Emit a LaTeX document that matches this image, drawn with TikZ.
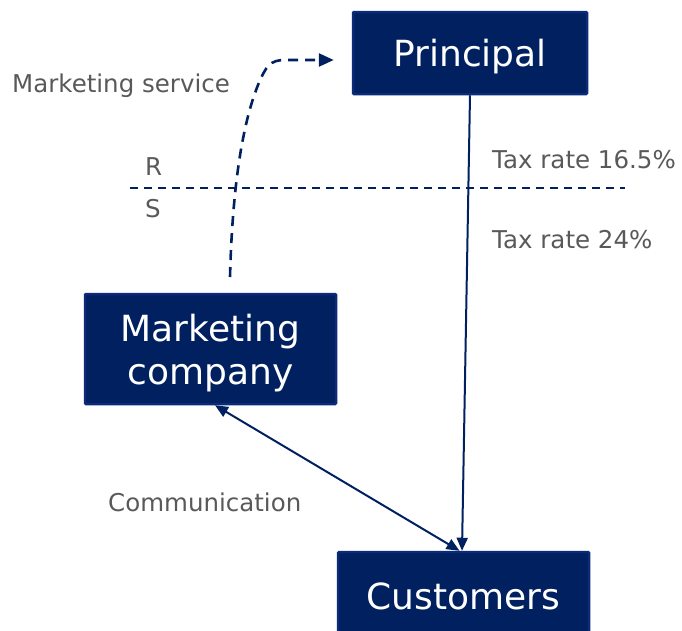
\documentclass[tikz,border=0pt]{standalone}
\usepackage{fontspec}
\setmainfont{DejaVu Sans}
\usetikzlibrary{arrows.meta}
\definecolor{navy}{HTML}{002060}
\definecolor{rim}{HTML}{0B2B7A}
\definecolor{labelgray}{HTML}{595959}
\begin{document}
\begin{tikzpicture}[x=1pt,y=-1pt,
  entity/.style={draw=rim,line width=2.5pt,fill=navy,text=white,text depth=0pt,
    font=\fontsize{36}{43}\selectfont,align=center,inner sep=0pt,rounded corners=1pt},
  note/.style={text=labelgray,font=\fontsize{24.5}{28}\selectfont,inner sep=0pt},
  flow/.style={draw=navy,line width=2pt,-{Triangle[length=13pt,width=11pt]}},
  both/.style={draw=navy,line width=2pt,{Triangle[length=13pt,width=11pt]}-{Triangle[length=13pt,width=11pt]}},
  service/.style={draw=navy,line width=2.6pt,dash pattern=on 10pt off 7pt,-{Triangle[length=15pt,width=13pt]}},
  border/.style={draw=navy,line width=1.6pt,dash pattern=on 8pt off 6pt}]
\useasboundingbox (0,0) rectangle (682,630);

% entities
\node[entity,minimum width=234pt,minimum height=82pt] (principal) at (470,53) {Principal};
\node[entity,minimum width=251pt,minimum height=110pt] (marketing) at (210.5,349) {Marketing\\company};
\node[entity,minimum width=251pt,minimum height=88pt] (customers) at (463.5,596) {Customers};

% jurisdiction border
\coordinate (bl) at (130,188);
\coordinate (br) at (625,188);
\draw[border] (bl) -- (br);

% labels
\node[note,anchor=west] (mserv) at (12,86) {Marketing service};
\node[note,anchor=west] (rlab) at (145,167) {R};
\node[note,anchor=west] (slab) at (145,209) {S};
\node[note,anchor=west] (taxr) at (492,160) {Tax rate 16.5\%};
\node[note,anchor=west] (taxs) at (492,240) {Tax rate 24\%};
\node[note,anchor=west] (comm) at (108,502) {Communication};

% connectors
\draw[flow] (principal.south) -- ([xshift=-1.5pt]customers.north);
\draw[both] ([xshift=4.5pt]marketing.south) -- ([xshift=-4pt]customers.north);

\coordinate (svcstart) at (230,277);
\coordinate (svcend) at ([xshift=-18pt,yshift=-7pt]principal.west);
\draw[service] (svcstart) .. controls (232,200) and (240,130) .. (258,85)
  .. controls (266,66) and (270,60) .. (285,60) -- (svcend);
\end{tikzpicture}
\end{document}
